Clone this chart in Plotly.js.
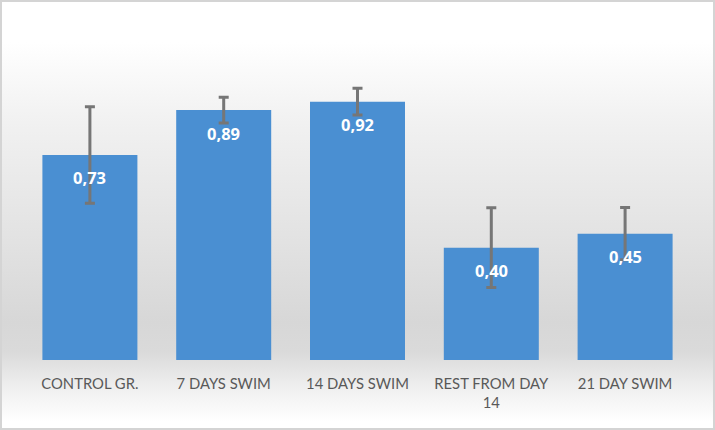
<!DOCTYPE html>
<html>
<head>
<meta charset="utf-8">
<script src="https://cdn.plot.ly/plotly-3.0.1.min.js"></script>
<style>
  html, body { margin: 0; padding: 0; }
  body { width: 715px; height: 430px; overflow: hidden; }
  #wrap {
    position: absolute; left: 0; top: 0; width: 711px; height: 426px;
    border: 2px solid #d4d4d4;
    background: linear-gradient(to bottom, #ffffff 0px, #ffffff 40px, #f1f1f1 120px, #e2e2e2 240px, #d7d7d7 320px, #dadada 350px, #efefef 385px, #ffffff 420px);
  }
  #chart { position: absolute; left: -2px; top: -2px; width: 715px; height: 430px; }
</style>
</head>
<body>
<div id="wrap"><div id="chart"></div></div>
<script>
const categories = ["CONTROL GR.", "7 DAYS SWIM", "14 DAYS SWIM", "REST FROM DAY<br>14", "21 DAY SWIM"];
const values = [0.73, 0.89, 0.92, 0.40, 0.45];
const errors = [0.172, 0.046, 0.048, 0.142, 0.093];

const labels = values.map(v => v.toFixed(2).replace('.', ','));

const trace = {
  type: 'bar',
  x: categories,
  y: values,
  marker: { color: '#4a8fd2', line: { width: 0 } },
  error_y: { type: 'data', array: errors, visible: true, color: '#767676', thickness: 3, width: 5 },
  hoverinfo: 'none'
};

const annotations = values.map((v, i) => ({
  x: categories[i], y: v, xref: 'x', yref: 'y',
  text: '<b>' + labels[i] + '</b>', showarrow: false,
  yshift: -23,
  font: { family: 'Open Sans, sans-serif', size: 16.5, color: '#ffffff' }
}));

const layout = {
  width: 715, height: 430,
  margin: { l: 22.5, r: 22.5, t: 23, b: 70 },
  paper_bgcolor: 'rgba(0,0,0,0)',
  plot_bgcolor: 'rgba(0,0,0,0)',
  bargap: 0.29,
  showlegend: false,
  xaxis: {
    showline: false, showgrid: false, zeroline: false, ticks: '',
    tickfont: { family: 'Lato, sans-serif', size: 14.8, color: '#595959' },
    ticklabelstandoff: 13
  },
  yaxis: { range: [0, 1.2], visible: false, showgrid: false, zeroline: false },
  annotations: annotations
};

Plotly.newPlot('chart', [trace], layout, { displayModeBar: false, staticPlot: true });
</script>
</body>
</html>
